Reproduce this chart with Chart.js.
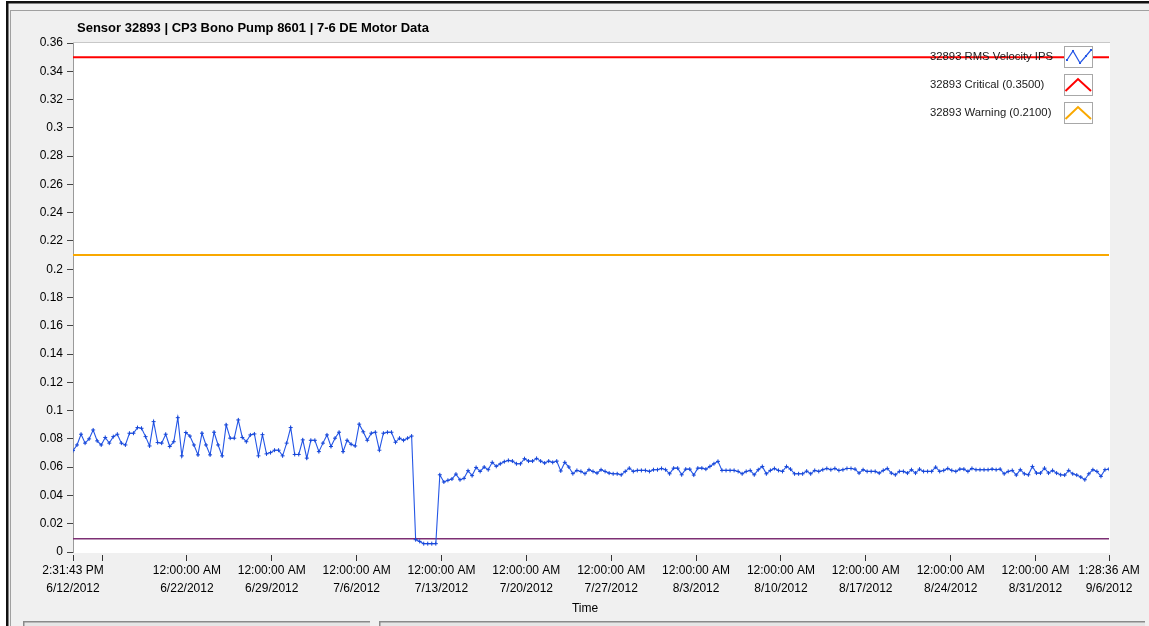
<!DOCTYPE html>
<html><head><meta charset="utf-8">
<script src="https://cdn.jsdelivr.net/npm/chart.js@4.4.1/dist/chart.umd.min.js"></script>
<style>html,body{margin:0;padding:0;background:#f0f0f0;overflow:hidden}canvas{display:block}</style>
</head><body>
<canvas id="c" width="1149" height="626"></canvas>
<script>
// ---------- data ----------
const chartTitle = 'Sensor 32893 | CP3 Bono Pump 8601 | 7-6 DE Motor Data';
const xAxisTitle = 'Time';
const seriesNames = ['32893 RMS Velocity IPS', '32893 Critical (0.3500)', '32893 Warning (0.2100)'];
const startStamp = ['6/12/2012', '2:31:43 PM'];
const endStamp = ['9/6/2012', '1:28:36 AM'];
const majorTickDates = ['6/22/2012','6/29/2012','7/6/2012','7/13/2012','7/20/2012','7/27/2012','8/3/2012','8/10/2012','8/17/2012','8/24/2012','8/31/2012'];
const majorTickTime = '12:00:00 AM';
const minorTickDates = ['6/15/2012'];
const yMin = 0, yMax = 0.36, yStep = 0.02;
const criticalLevel = 0.35;
const warningLevel = 0.21;
const baselineLevel = 0.0094;
const rmsVelocity = [
  0.0717,0.0757,0.0833,0.077,0.080,0.0863,0.0786,0.0757,0.081,0.077,
  0.0816,0.0833,0.077,0.0757,0.084,0.084,0.088,0.0875,0.0816,0.075,
  0.0922,0.0774,0.077,0.0833,0.0746,0.078,0.095,0.068,0.0845,0.082,
  0.0757,0.0687,0.084,0.0757,0.0687,0.0847,0.0757,0.068,0.0899,0.0805,
  0.0805,0.0934,0.081,0.078,0.0828,0.0835,0.068,0.083,0.0694,0.0703,
  0.072,0.072,0.068,0.077,0.088,0.069,0.069,0.0793,0.0664,0.079,
  0.079,0.071,0.077,0.0828,0.0746,0.0805,0.0847,0.071,0.079,0.0762,
  0.075,0.0904,0.085,0.079,0.084,0.0847,0.072,0.084,0.0847,0.0847,
  0.0776,0.0805,0.079,0.0805,0.082,
  0.0087,0.0075,0.0059,0.0059,0.0059,0.0059,
  0.0546,0.0495,0.0507,0.0516,0.0551,0.0511,0.0521,0.0575,0.054,0.0598,
  0.057,0.0601,0.0582,0.0634,0.0606,0.0624,0.0639,0.0648,0.0643,0.0624,
  0.0624,0.066,0.0643,0.0643,0.0662,0.0643,0.0629,0.0643,0.0634,0.0643,
  0.0573,0.0634,0.0601,0.0554,0.0577,0.057,0.0554,0.0582,0.057,0.0558,
  0.0582,
  0.057,0.0558,0.0553,0.0553,0.0546,0.057,0.0593,0.057,0.0577,0.0577,
  0.0577,0.057,0.0582,0.0582,0.0591,0.0582,0.0553,0.0593,0.0593,0.0546,
  0.0586,0.0586,0.0544,0.0593,0.0593,0.0586,0.0605,0.0624,0.0641,0.0577,
  0.0577,0.0577,0.0577,0.057,0.0553,0.057,0.0577,0.0546,0.0582,0.0605,
  0.0553,0.0577,0.0591,0.0577,0.057,
  0.0605,0.0586,0.0553,0.0553,0.0553,0.0572,0.0553,0.0577,0.057,0.0582,
  0.0591,0.0582,0.0591,0.0577,0.0582,0.0591,0.0591,0.0586,0.0558,0.0582,
  0.057,0.057,0.057,0.0558,0.0577,0.0591,0.0558,0.0546,0.057,0.057,
  0.0558,0.0582,0.0558,0.0586,0.057,0.057,0.057,0.06,0.057,0.0577,
  0.0591,0.0577,0.057,0.0586,
  0.0586,0.057,0.0591,0.0582,0.0582,0.0582,0.0582,0.0586,0.0582,0.0586,
  0.0553,0.057,0.0577,0.0544,0.0582,0.0553,0.0546,0.0605,0.0558,0.0558,
  0.0593,0.0558,0.0577,0.0558,0.0546,0.0544,0.0577,0.0553,0.0544,0.053,
  0.0511,0.0553,0.0582,0.057,0.0535,0.0582,0.0586
];

// ---------- helpers ----------
function stamp(date, time) {
  const [m, d, y] = date.split('/').map(Number);
  const [hms, ap] = time.split(' ');
  let [h, mi, s] = hms.split(':').map(Number);
  h = (h % 12) + (ap === 'PM' ? 12 : 0);
  return Date.UTC(y, m - 1, d, h, mi, s);
}
const t0 = stamp(startStamp[0], startStamp[1]);
const t1 = stamp(endStamp[0], endStamp[1]);
const dt = (t1 - t0) / (rmsVelocity.length - 1);
const rmsPoints = rmsVelocity.map((v, i) => ({ x: t0 + i * dt, y: v }));

const xTicks = [{ value: t0, label: [startStamp[1], startStamp[0]] }]
  .concat(minorTickDates.map(d => ({ value: stamp(d, majorTickTime), label: '' })))
  .concat(majorTickDates.map(d => ({ value: stamp(d, majorTickTime), label: [majorTickTime, d] })))
  .concat([{ value: t1, label: [endStamp[1], endStamp[0]] }])
  .sort((a, b) => a.value - b.value);

const FONT = "'Liberation Sans', Arial, sans-serif";
const COLORS = { rms: '#2456e6', rmsPoint: '#1646d8', critical: '#ff0000', warning: '#f9a800', baseline: '#7d2f74' };

const framePlugin = {
  id: 'frame',
  beforeDraw(chart) {
    const ctx = chart.ctx, a = chart.chartArea;
    ctx.save();
    ctx.fillStyle = '#f0f0f0';
    ctx.fillRect(0, 0, chart.width, chart.height);
    ctx.fillStyle = '#ffffff';
    ctx.fillRect(0, 0, 6, chart.height);
    ctx.fillRect(0, 0, chart.width, 1);
    ctx.fillStyle = '#111';
    ctx.fillRect(6, 1, 2.5, chart.height);
    ctx.fillRect(6, 1, chart.width - 6, 2.5);
    ctx.fillStyle = '#a0a0a0';
    ctx.fillRect(10, 10, 1, chart.height - 10);
    ctx.fillRect(10, 10, chart.width - 10, 1);
    // plot area
    ctx.fillStyle = '#ffffff';
    ctx.fillRect(a.left, a.top, a.right - a.left + 1, a.bottom - a.top + 1);
    ctx.fillStyle = '#c8c8c8';
    ctx.fillRect(a.left, a.top - 1, a.right - a.left + 1, 1);
    ctx.restore();
  },
  afterDraw(chart) {
    const ctx = chart.ctx, a = chart.chartArea;
    ctx.save();
    // title
    ctx.fillStyle = '#000';
    ctx.font = 'bold 13px ' + FONT;
    ctx.textBaseline = 'middle';
    ctx.textAlign = 'left';
    ctx.fillText(chartTitle, 77, 28.5);
    // x axis title
    ctx.font = '12px ' + FONT;
    ctx.textAlign = 'center';
    ctx.fillText(xAxisTitle, 585, 609);
    // legend
    const rowsY = [57, 85, 113];
    const colors = [COLORS.rms, COLORS.critical, COLORS.warning];
    ctx.textAlign = 'left';
    seriesNames.forEach((name, i) => {
      const y = rowsY[i];
      ctx.fillStyle = '#1a1a1a';
      ctx.font = '11.3px ' + FONT;
      ctx.fillText(name, 930, y);
      const bx = 1064.5, by = y - 10.5, bw = 28, bh = 21;
      ctx.fillStyle = '#ffffff';
      ctx.fillRect(bx, by, bw, bh);
      ctx.strokeStyle = '#a8a8a8';
      ctx.lineWidth = 1;
      ctx.strokeRect(bx, by, bw, bh);
      ctx.strokeStyle = colors[i];
      ctx.beginPath();
      if (i === 0) {
        ctx.lineWidth = 1.2;
        const pts = [[1067, y + 3], [1073, y - 6], [1080, y + 6], [1086, y - 1], [1091, y - 7]];
        pts.forEach((p, k) => k ? ctx.lineTo(p[0], p[1]) : ctx.moveTo(p[0], p[1]));
        ctx.stroke();
        ctx.fillStyle = colors[i];
        pts.forEach(p => { ctx.fillRect(p[0] - 1, p[1] - 1, 2, 2); });
      } else {
        ctx.lineWidth = 2;
        ctx.moveTo(1065.5, y + 6);
        ctx.lineTo(1078, y - 6);
        ctx.lineTo(1091, y + 6);
        ctx.stroke();
      }
    });
    // bottom control boxes
    ctx.fillStyle = '#e6e6e6';
    ctx.fillRect(23, 622, 347, 6);
    ctx.fillRect(379, 622, 766, 6);
    ctx.fillStyle = '#8a8a8a';
    ctx.fillRect(23, 621, 347, 1.5);
    ctx.fillRect(23, 621, 1.5, 6);
    ctx.fillRect(379, 621, 766, 1.5);
    ctx.fillRect(379, 621, 1.5, 6);
    ctx.restore();
  }
};

new Chart(document.getElementById('c'), {
  type: 'line',
  data: {
    datasets: [
      {
        label: seriesNames[0], data: rmsPoints,
        borderColor: COLORS.rms, borderWidth: 1.1,
        pointStyle: 'cross', pointRadius: 2, pointBorderWidth: 1,
        pointBorderColor: COLORS.rmsPoint, pointBackgroundColor: COLORS.rmsPoint,
        tension: 0, order: 3
      },
      {
        label: seriesNames[1], data: [{ x: t0, y: criticalLevel }, { x: t1, y: criticalLevel }],
        borderColor: COLORS.critical, borderWidth: 2, pointRadius: 0, order: 1
      },
      {
        label: seriesNames[2], data: [{ x: t0, y: warningLevel }, { x: t1, y: warningLevel }],
        borderColor: COLORS.warning, borderWidth: 2, pointRadius: 0, order: 2
      },
      {
        label: 'Baseline', data: [{ x: t0, y: baselineLevel }, { x: t1, y: baselineLevel }],
        borderColor: COLORS.baseline, borderWidth: 1.5, pointRadius: 0, order: 4
      }
    ]
  },
  options: {
    responsive: false,
    animation: false,
    devicePixelRatio: 1,
    layout: { padding: { top: 43, right: 40, left: 0, bottom: 0 } },
    plugins: { legend: { display: false }, title: { display: false }, tooltip: { enabled: false } },
    scales: {
      x: {
        type: 'linear', min: t0, max: t1,
        afterBuildTicks: s => { s.ticks = xTicks.map(t => ({ value: t.value })); },
        afterFit: s => { s.height = 74; },
        border: { display: false },
        grid: { drawOnChartArea: false, drawTicks: true, tickLength: 9, tickColor: '#333', tickBorderDash: [0, 3, 6, 40] },
        ticks: {
          autoSkip: false, maxRotation: 0, minRotation: 0, padding: 1,
          color: '#000', font: { family: FONT, size: 12, lineHeight: 1.5 },
          callback: (v, i) => xTicks[i] ? xTicks[i].label : ''
        }
      },
      y: {
        type: 'linear', min: yMin, max: yMax,
        afterFit: s => { s.width = 73; },
        border: { display: true, color: '#9a9a9a', width: 1 },
        grid: { drawOnChartArea: false, drawTicks: true, tickLength: 6, tickColor: '#444' },
        ticks: {
          stepSize: yStep, padding: 4, color: '#000',
          font: { family: FONT, size: 12 },
          callback: v => String(+(+v).toFixed(2))
        }
      }
    }
  },
  plugins: [framePlugin]
});
</script>
</body></html>
